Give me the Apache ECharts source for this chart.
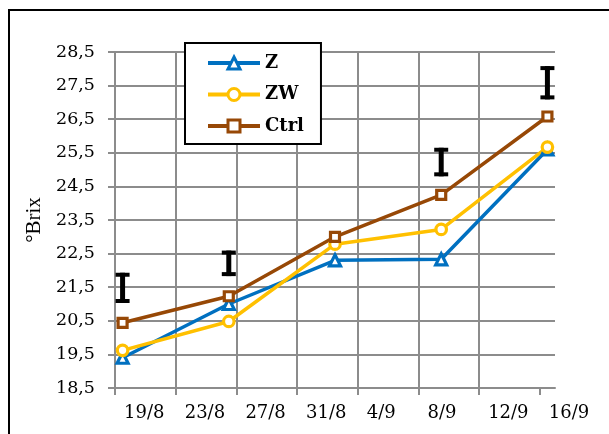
<!DOCTYPE html>
<html>
<head>
<meta charset="utf-8">
<script src="https://cdn.jsdelivr.net/npm/echarts@6/dist/echarts.min.js"></script>
<style>
  html, body { margin: 0; padding: 0; background: #fff; }
  #chart { width: 609px; height: 434px; }
</style>
</head>
<body>
<div id="chart"></div>
<script>
// Sampling dates (day/month) and °Brix readings per treatment
const sampleDates = ['19/8', '26/8', '2/9', '9/9', '16/9'];
const zValues    = [19.40, 21.00, 22.30, 22.33, 25.60];
const zwValues   = [19.62, 20.48, 22.78, 23.22, 25.67];
const ctrlValues = [20.44, 21.23, 23.00, 24.25, 26.58];

// Least-significant-difference bars (bottom and top of each bar)
const lsdDates = ['19/8', '26/8', '9/9', '16/9'];
const lsdLow   = [21.03, 21.83, 24.80, 27.09];
const lsdHigh  = [21.93, 22.59, 25.65, 28.08];

// Date axis tick labels, one every four days
const tickLabels = ['19/8', '23/8', '27/8', '31/8', '4/9', '8/9', '12/9', '16/9'];

// Value axis range
const yMin = 18.5, yMax = 28.5, yStep = 1;

function dayOf(s) {
  const [d, m] = s.split('/').map(Number);
  return Date.UTC(2001, m - 1, d) / 86400000;
}
const day0 = dayOf(tickLabels[0]);
const tickStep = dayOf(tickLabels[1]) - day0;
const spanDays = dayOf(tickLabels[tickLabels.length - 1]) - day0 + 1;
// each day is one slot on the axis; a reading sits in the middle of its day
const xOf = s => dayOf(s) - day0 + 0.5;

const toPairs = vals => sampleDates.map((d, i) => [xOf(d), vals[i]]);
const lsdData = lsdDates.map((d, i) => [xOf(d), lsdLow[i], lsdHigh[i]]);

const GRID = '#8c8c8c';
const serif = 'DejaVu Serif';

function lineSeries(name, vals, color, symbol, size) {
  return {
    name, type: 'line', data: toPairs(vals),
    symbol, symbolSize: size,
    showAllSymbol: true,
    lineStyle: { color, width: 3.5 },
    itemStyle: { color: '#fff', borderColor: color, borderWidth: 3.2 },
    emphasis: { disabled: true },
    animation: false
  };
}

const chart = echarts.init(document.getElementById('chart'), null, { renderer: 'canvas' });
chart.setOption({
  backgroundColor: '#fff',
  animation: false,
  graphic: [{
    type: 'rect', z: 100,
    shape: { x: 9, y: 10, width: 700, height: 500 },
    style: { fill: 'none', stroke: '#000', lineWidth: 2 }
  }],
  grid: { left: 115, top: 52, width: 440, height: 336 },
  legend: {
    data: ['Z', 'ZW', 'Ctrl'],
    orient: 'vertical',
    left: 185, top: 43,
    itemWidth: 52, itemHeight: 15, itemGap: 13.5,
    padding: [11, 17, 9, 21],
    borderColor: '#000', borderWidth: 2,
    backgroundColor: '#fff',
    selectedMode: false,
    lineStyle: { width: 4 },
    itemStyle: { borderWidth: 3 },
    textStyle: { fontFamily: serif, fontWeight: 'bold', fontSize: 18, color: '#000' }
  },
  xAxis: {
    type: 'value',
    min: 0, max: spanDays, interval: tickStep,
    axisLine: { show: true, onZero: false, lineStyle: { color: GRID, width: 2 } },
    axisTick: {
      show: true, length: 7, lineStyle: { color: GRID, width: 2 },
      customValues: tickLabels.map((_, i) => i * tickStep)
    },
    splitLine: { show: true, showMaxLine: false, lineStyle: { color: GRID, width: 2 } },
    axisLabel: {
      showMaxLabel: false,
      align: 'left', padding: [0, 0, 0, 9], margin: 16,
      fontFamily: serif, fontSize: 18, color: '#000',
      formatter: v => tickLabels[Math.round(v / tickStep)] || ''
    }
  },
  yAxis: {
    type: 'value',
    min: yMin, max: yMax, interval: yStep,
    name: '°Brix', nameLocation: 'middle', nameGap: 68,
    nameTextStyle: { fontFamily: 'Liberation Serif', fontSize: 21, color: '#000' },
    axisLine: { show: true, lineStyle: { color: GRID, width: 2 } },
    axisTick: { show: true, length: 7, lineStyle: { color: GRID, width: 2 } },
    splitLine: { show: true, lineStyle: { color: GRID, width: 2 } },
    axisLabel: {
      margin: 20,
      fontFamily: serif, fontSize: 17.5, color: '#000',
      formatter: v => v.toFixed(1).replace('.', ',')
    }
  },
  series: [
    lineSeries('Z', zValues, '#0070C0', 'triangle', 11),
    lineSeries('ZW', zwValues, '#FFC000', 'circle', 10.5),
    lineSeries('Ctrl', ctrlValues, '#974806', 'rect', 9),
    {
      name: 'LSD', type: 'custom', data: lsdData,
      encode: { x: 0, y: [1, 2] },
      renderItem(params, api) {
        const x = api.value(0);
        const top = api.coord([x, api.value(2)]);
        const bot = api.coord([x, api.value(1)]);
        const capW = 14, capH = 4, stemW = 5;
        return {
          type: 'group',
          children: [
            { type: 'rect', shape: { x: top[0] - stemW / 2, y: top[1], width: stemW, height: bot[1] - top[1] }, style: { fill: '#000' } },
            { type: 'rect', shape: { x: top[0] - capW / 2, y: top[1], width: capW, height: capH }, style: { fill: '#000' } },
            { type: 'rect', shape: { x: bot[0] - capW / 2, y: bot[1] - capH, width: capW, height: capH }, style: { fill: '#000' } }
          ]
        };
      },
      z: 5, silent: true, animation: false
    }
  ]
});
</script>
</body>
</html>
